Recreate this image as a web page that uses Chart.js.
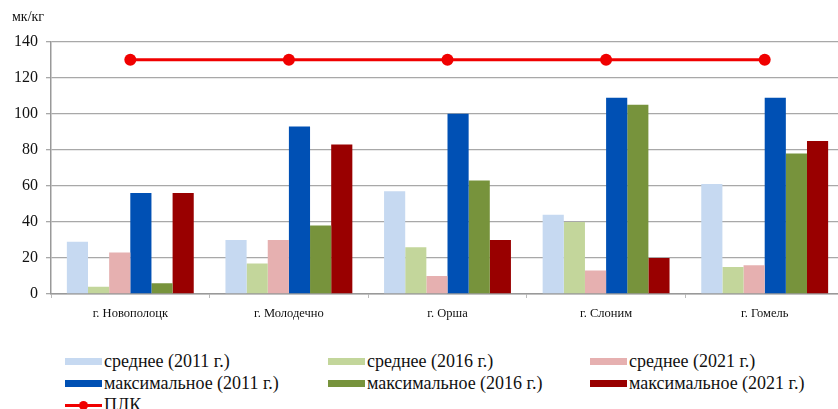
<!DOCTYPE html>
<html>
<head>
<meta charset="utf-8">
<script src="https://cdn.jsdelivr.net/npm/chart.js@4.4.1/dist/chart.umd.min.js"></script>
<style>
  html, body { margin: 0; padding: 0; background: #fff; overflow: hidden; }
  body { width: 838px; height: 409px; position: relative; }
  #wrap { position: absolute; left: 0; top: 0; width: 850px; height: 330px; }
  #legend {
    position: absolute; left: 65px; top: 350px;
    display: grid; grid-template-columns: 263px 262px 262px; grid-auto-rows: 22px;
    font-family: "Liberation Serif", "Times New Roman", serif;
    font-size: 18px; color: #111;
  }
  .item { display: flex; align-items: center; white-space: nowrap; }
  .box { width: 37px; height: 7px; margin-right: 2px; }
  .plk { width: 37px; height: 10px; margin-right: 2px; position: relative; }
  .plk:before { content: ""; position: absolute; left: 0; right: 0; top: 4px; height: 3px; background: #f00000; }
  .plk:after { content: ""; position: absolute; left: 14px; top: 1px; width: 9px; height: 9px; border-radius: 50%; background: #f00000; }
</style>
</head>
<body>
<div id="wrap"><canvas id="myChart"></canvas></div>
<div id="legend"></div>
<script>
const cities = ["г. Новополоцк", "г. Молодечно", "г. Орша", "г. Слоним", "г. Гомель"];
const yTicks = [0, 20, 40, 60, 80, 100, 120, 140];

const avg2011 = [29, 30, 57, 44, 61];
const avg2016 = [4, 17, 26, 40, 15];
const avg2021 = [23, 30, 10, 13, 16];
const max2011 = [56, 93, 100, 109, 109];
const max2016 = [6, 38, 63, 105, 78];
const max2021 = [56, 83, 30, 20, 85];
const plk = [130, 130, 130, 130, 130];

const barSets = [
  { label: "среднее (2011 г.)", data: avg2011, color: "#c6d9f1" },
  { label: "среднее (2016 г.)", data: avg2016, color: "#c3d69b" },
  { label: "среднее (2021 г.)", data: avg2021, color: "#e6b0b0" },
  { label: "максимальное (2011 г.)", data: max2011, color: "#0050b4" },
  { label: "максимальное (2016 г.)", data: max2016, color: "#77933c" },
  { label: "максимальное (2021 г.)", data: max2021, color: "#990000" },
];

Chart.defaults.font.family = "'Liberation Serif', 'Times New Roman', serif";

const datasets = barSets.map(function (s) {
  return {
    type: "bar",
    label: s.label,
    data: s.data,
    backgroundColor: s.color,
    borderWidth: 0,
    barPercentage: 1.0,
    categoryPercentage: 0.8,
    order: 1,
  };
});
datasets.push({
  type: "line",
  label: "ПЛК",
  data: plk,
  borderColor: "#f00000",
  backgroundColor: "#f00000",
  borderWidth: 3,
  pointRadius: 6,
  pointBackgroundColor: "#f00000",
  pointBorderWidth: 0,
  order: 0,
});

const config = {
  type: "bar",
  data: { labels: cities, datasets: datasets },
  options: {
    responsive: true,
    maintainAspectRatio: false,
    animation: false,
    layout: { padding: { left: 12, right: 3, top: 0, bottom: 1 } },
    plugins: {
      legend: { display: false },
      tooltip: { enabled: false },
      title: {
        display: true,
        text: "мк/кг",
        align: "start",
        color: "#111",
        font: { size: 14, weight: "normal" },
        padding: { top: 9, bottom: 16 },
      },
    },
    scales: {
      x: {
        grid: { display: true, drawOnChartArea: false, drawTicks: true, tickLength: 4, color: "#bbb" },
        border: { display: true, color: "#999", width: 1.5 },
        ticks: { color: "#111", font: { size: 12.5 }, padding: 8 },
      },
      y: {
        min: 0,
        max: 140,
        afterBuildTicks: function (scale) {
          scale.ticks = yTicks.map(function (v) { return { value: v }; });
        },
        afterFit: function (scale) { scale.width = 39; },
        grid: { color: "#a8a8a8", lineWidth: 1.3, tickLength: 5 },
        border: { display: true, color: "#999", width: 1.5 },
        ticks: { color: "#111", font: { size: 16 }, padding: 8 },
      },
    },
  },
};
const myChart = new Chart(document.getElementById("myChart"), config);

// legend in three columns, built from the datasets
var legend = document.getElementById("legend");
for (var i = 0; i < datasets.length; i++) {
  var ds = datasets[i];
  var item = document.createElement("div");
  item.className = "item";
  var mark = document.createElement("span");
  if (ds.type == "line") {
    mark.className = "plk";
  } else {
    mark.className = "box";
    mark.style.backgroundColor = ds.backgroundColor;
  }
  item.appendChild(mark);
  var txt = document.createElement("span");
  txt.textContent = ds.label;
  item.appendChild(txt);
  legend.appendChild(item);
}
</script>
</body>
</html>
